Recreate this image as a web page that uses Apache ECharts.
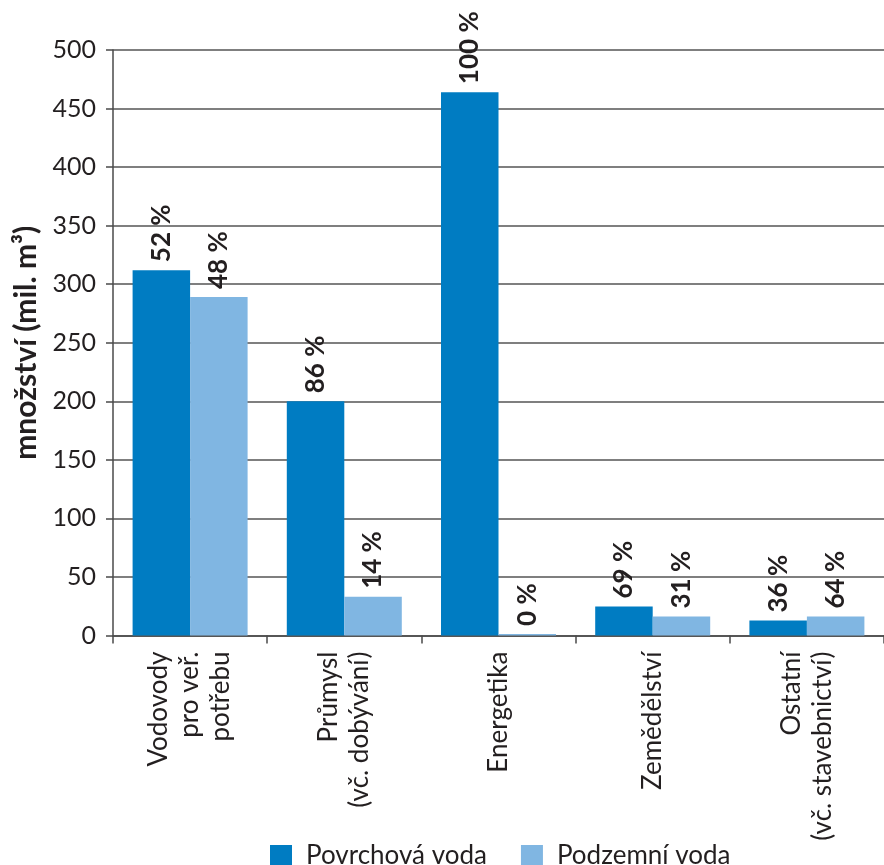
<!DOCTYPE html>
<html>
<head>
<meta charset="utf-8">
<script src="https://cdn.jsdelivr.net/npm/echarts@6/dist/echarts.min.js"></script>
<style>
  html, body { margin: 0; padding: 0; background: #fff; }
  #chart { width: 884px; height: 865px; }
</style>
</head>
<body>
<div id="chart"></div>
<script>
// Odběry vody podle sektorů (mil. m³)
const categories = [
  'Vodovody\npro veř.\npotřebu',
  'Průmysl\n(vč. dobývání)',
  'Energetika',
  'Zemědělství',
  'Ostatní\n(vč. stavebnictví)'
];
const povrchova = [312, 200, 464, 24.7, 12.8];
const podzemni = [289, 33, 1.3, 16.2, 16.2];
// podíl povrchové / podzemní vody v rámci sektoru
const podilPovrchova = ['52 %', '86 %', '100 %', '69 %', '36 %'];
const podilPodzemni = ['48 %', '14 %', '0 %', '31 %', '64 %'];
const yTicks = { min: 0, max: 500, interval: 50 };

const FONT = 'Lato, "Open Sans", sans-serif';
const TEXT = '#231f20';
const LINE = '#4a4a4a';

const barLabel = (texts) => ({
  show: true,
  position: 'top',
  rotate: 90,
  align: 'left',
  verticalAlign: 'middle',
  distance: 8,
  fontFamily: FONT,
  fontWeight: 'bold',
  fontSize: 26,
  color: TEXT,
  formatter: (p) => texts[p.dataIndex]
});

const chart = echarts.init(document.getElementById('chart'), null, { renderer: 'canvas' });
chart.setOption({
  animation: false,
  backgroundColor: '#fff',
  textStyle: { fontFamily: FONT },
  grid: { left: 113, top: 50, width: 775, height: 585.5 },
  legend: {
    left: 265,
    top: 838,
    itemWidth: 22,
    itemHeight: 22,
    itemGap: 34,
    icon: 'rect',
    textStyle: { fontFamily: FONT, fontSize: 26, color: TEXT, padding: [0, 0, 0, 9] },
    data: ['Povrchová voda', 'Podzemní voda']
  },
  xAxis: {
    type: 'category',
    data: categories,
    axisLine: { lineStyle: { color: LINE, width: 1.5 } },
    axisTick: { show: true, length: 8, lineStyle: { color: LINE, width: 1.5 } },
    axisLabel: {
      interval: 0,
      rotate: 90,
      margin: 16,
      fontFamily: FONT,
      fontSize: 26,
      lineHeight: 31,
      color: TEXT
    }
  },
  yAxis: {
    type: 'value',
    min: yTicks.min,
    max: yTicks.max,
    interval: yTicks.interval,
    name: 'množství (mil. m³)',
    nameLocation: 'middle',
    nameRotate: 90,
    nameGap: 71,
    nameTextStyle: { fontFamily: FONT, fontWeight: 'bold', fontSize: 30, color: TEXT },
    axisLine: { show: true, lineStyle: { color: LINE, width: 1.5 } },
    axisTick: { show: true, length: 7, lineStyle: { color: LINE, width: 1.5 } },
    axisLabel: { margin: 17, fontFamily: FONT, fontSize: 25, color: TEXT },
    splitLine: { show: true, lineStyle: { color: '#555', width: 1.5 } }
  },
  series: [
    {
      name: 'Povrchová voda',
      type: 'bar',
      data: povrchova,
      barWidth: 57.5,
      barGap: '0%',
      itemStyle: { color: '#007cc2' },
      label: barLabel(podilPovrchova)
    },
    {
      name: 'Podzemní voda',
      type: 'bar',
      data: podzemni,
      barWidth: 57.5,
      barGap: '0%',
      itemStyle: { color: '#80b6e2' },
      label: barLabel(podilPodzemni)
    }
  ]
});
</script>
</body>
</html>
